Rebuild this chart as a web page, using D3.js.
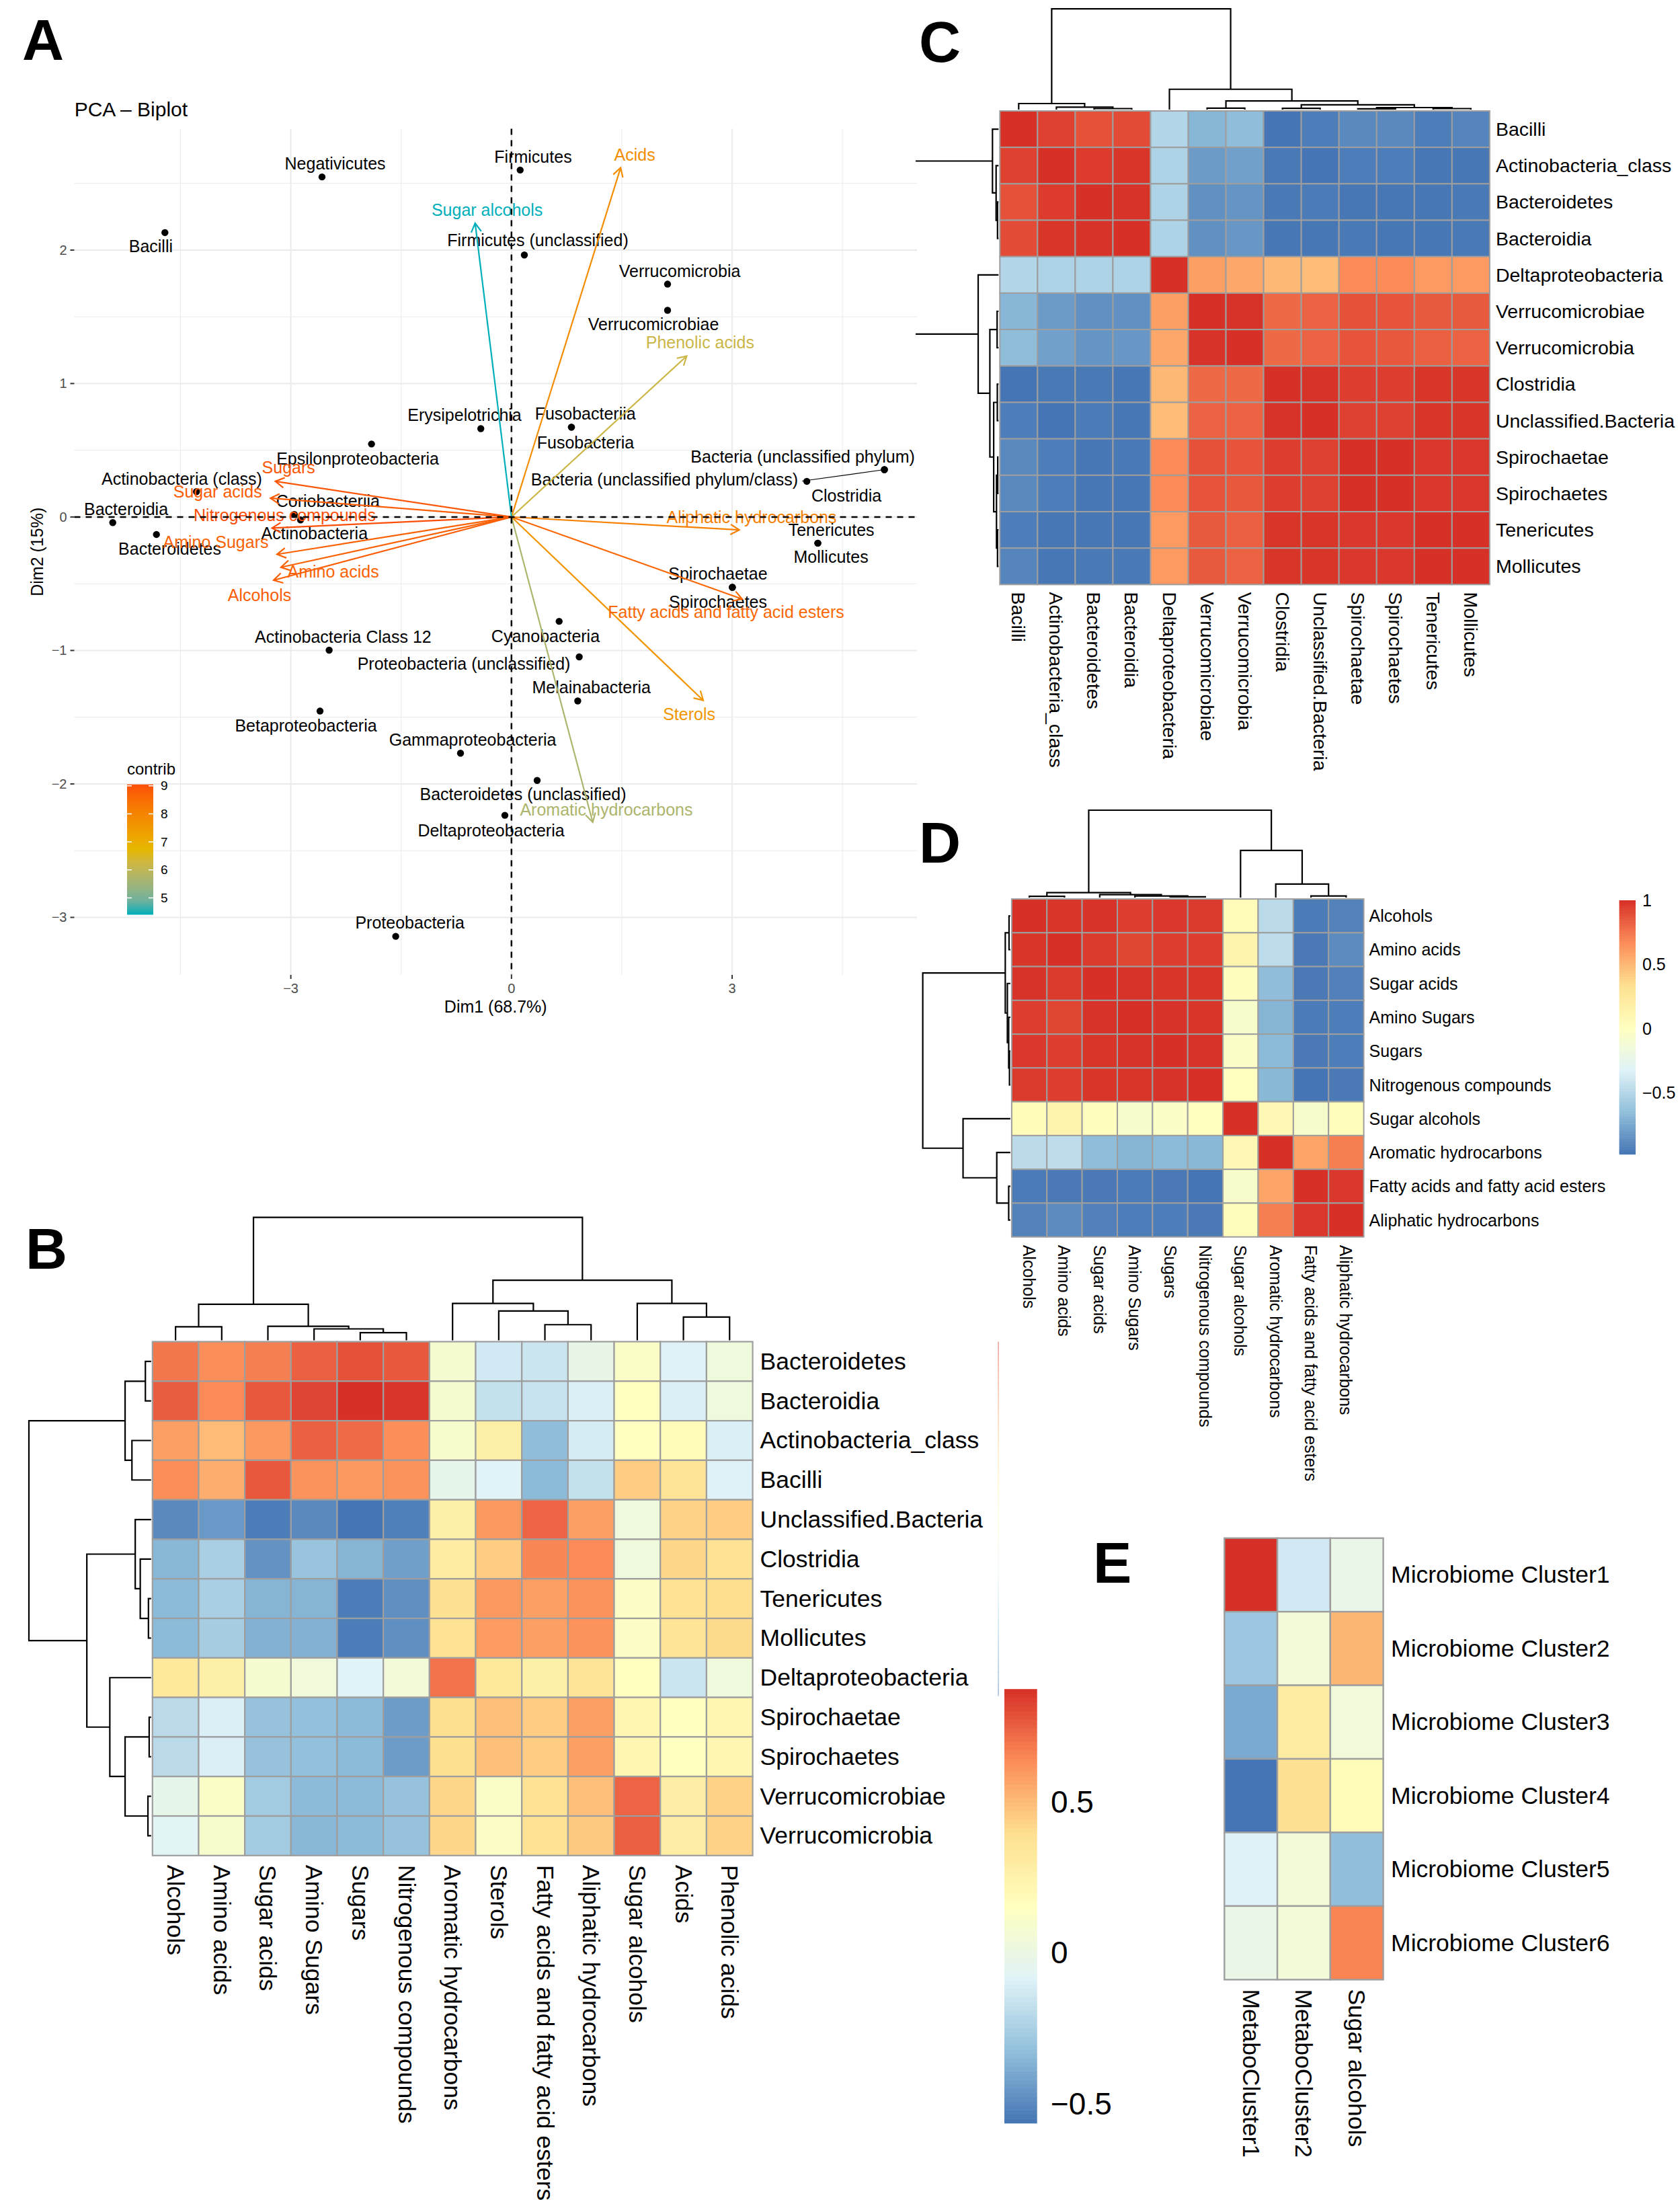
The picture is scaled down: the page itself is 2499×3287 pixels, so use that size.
<!DOCTYPE html>
<html><head><meta charset="utf-8">
<script src="https://cdn.jsdelivr.net/npm/d3@7"></script>
<style>
body{margin:0;background:#fff}
svg{display:block}
text{font-family:"Liberation Sans",Arial,Helvetica,sans-serif}
</style>
</head><body>
<svg id="c" width="2499" height="3287"></svg>
<script>
// ================= DATA =================
// ---- Panel A : PCA biplot (individuals = taxa, variables = metabolite classes)
const indNames = ["Negativicutes","Bacilli","Firmicutes","Firmicutes (unclassified)","Verrucomicrobia","Verrucomicrobiae","Erysipelotrichia","Fusobacteriia","Fusobacteria","Bacteria (unclassified phylum)","Bacteria (unclassified phylum/class)","Clostridia","Tenericutes","Mollicutes","Spirochaetae","Spirochaetes","Cyanobacteria","Proteobacteria (unclassified)","Melainabacteria","Bacteroidetes (unclassified)","Deltaproteobacteria","Gammaproteobacteria","Betaproteobacteria","Actinobacteria Class 12","Proteobacteria","Epsilonproteobacteria","Actinobacteria (class)","Bacteroidia","Bacteroidetes","Coriobacteriia","Actinobacteria"];
const indDim1 = [-2.576,-4.712,0.118,0.175,2.122,2.122,-0.417,0.815,0.815,5.07,5.07,4.015,4.165,4.165,3.003,3.003,0.648,0.921,0.901,0.349,-0.090,-0.693,-2.603,-2.479,-1.574,-1.903,-4.283,-5.421,-4.827,-2.953,-2.868];
const indDim2 = [2.548,2.131,2.600,1.963,1.745,1.549,0.662,0.673,0.673,0.355,0.355,0.267,-0.196,-0.196,-0.527,-0.527,-0.782,-1.048,-1.378,-1.974,-2.235,-1.770,-1.454,-0.998,-3.142,0.547,0.190,-0.042,-0.131,0.019,-0.022];
// repelled label anchors (data units)
const indLabDim1 = [-2.397,-4.903,0.294,0.358,2.287,1.931,-0.638,1.004,1.007,3.960,2.080,4.554,4.349,4.344,2.807,2.808,0.463,-0.647,1.087,0.157,-0.277,-0.528,-2.795,-2.289,-1.381,-2.091,-4.482,-5.240,-4.646,-2.495,-2.678];
const indLabDim2 = [2.605,1.987,2.655,2.031,1.798,1.401,0.720,0.730,0.516,0.409,0.234,0.116,-0.139,-0.343,-0.469,-0.678,-0.935,-1.144,-1.320,-2.120,-2.392,-1.714,-1.606,-0.943,-3.083,0.394,0.243,0.016,-0.280,0.074,-0.167];
const indLabSegment = ["Bacteria (unclassified phylum/class)"];

const varNames = ["Sugars","Sugar acids","Nitrogenous compounds","Amino Sugars","Amino acids","Alcohols","Aliphatic hydrocarbons","Fatty acids and fatty acid esters","Sterols","Aromatic hydrocarbons","Acids","Phenolic acids","Sugar alcohols"];
const varDim1 = [-3.210,-3.277,-3.255,-3.188,-3.135,-3.234,3.097,3.137,2.607,1.105,1.484,2.382,-0.494];
const varDim2 = [0.267,0.141,-0.083,-0.280,-0.377,-0.474,-0.097,-0.615,-1.374,-2.287,2.617,1.206,2.201];
const varContrib = [8.9,8.8,9.05,8.7,8.7,8.8,8.1,8.6,7.6,5.7,7.8,6.2,4.4];
const varLabDim1 = [-3.031,-3.995,-3.084,-4.020,-2.424,-3.426,3.265,2.918,2.415,1.290,1.675,2.564,-0.331];
const varLabDim2 = [0.329,0.146,-0.032,-0.232,-0.453,-0.630,-0.048,-0.756,-1.524,-2.235,2.670,1.262,2.257];

const pcaXTicks = [-3,0,3];
const pcaYTicks = [-3,-2,-1,0,1,2];
const pcaXMinor = [-4.5,-1.5,1.5,4.5];
const pcaYMinor = [-2.5,-1.5,-0.5,0.5,1.5,2.5];
const contribTicks = [5,6,7,8,9];
const contribColors = ["#00AFBB","#E7B800","#FC4E07"];

// ---- Panel B : taxa x metabolite classes correlation
const bTaxa = ["Bacteroidetes","Bacteroidia","Actinobacteria_class","Bacilli","Unclassified.Bacteria","Clostridia","Tenericutes","Mollicutes","Deltaproteobacteria","Spirochaetae","Spirochaetes","Verrucomicrobiae","Verrucomicrobia"];
const bMetab = ["Alcohols","Amino acids","Sugar acids","Amino Sugars","Sugars","Nitrogenous compounds","Aromatic hydrocarbons","Sterols","Fatty acids and fatty acid esters","Aliphatic hydrocarbons","Sugar alcohols","Acids","Phenolic acids"];
const bCorr = [
[0.69,0.63,0.67,0.75,0.79,0.77,0.08,-0.13,-0.15,-0.02,0.12,-0.09,0.03],
[0.76,0.64,0.77,0.82,0.873,0.86,0.08,-0.17,-0.16,-0.10,0.15,-0.10,0.03],
[0.58,0.50,0.60,0.75,0.72,0.63,0.10,0.28,-0.33,-0.12,0.15,0.18,-0.10],
[0.63,0.54,0.77,0.62,0.60,0.62,-0.03,-0.08,-0.34,-0.17,0.45,0.36,-0.09],
[-0.50,-0.45,-0.54,-0.50,-0.565,-0.53,0.28,0.60,0.74,0.58,0.03,0.43,0.45],
[-0.35,-0.25,-0.47,-0.30,-0.36,-0.43,0.30,0.45,0.65,0.64,0.03,0.42,0.37],
[-0.34,-0.25,-0.36,-0.36,-0.54,-0.48,0.38,0.60,0.58,0.62,0.13,0.37,0.40],
[-0.34,-0.26,-0.37,-0.37,-0.54,-0.48,0.37,0.59,0.58,0.62,0.13,0.36,0.41],
[0.33,0.28,0.08,0.04,-0.08,0.05,0.70,0.33,0.27,0.36,0.15,-0.15,0.03],
[-0.20,-0.10,-0.31,-0.32,-0.34,-0.44,0.39,0.49,0.45,0.58,0.22,0.15,0.22],
[-0.20,-0.10,-0.31,-0.32,-0.34,-0.44,0.39,0.49,0.45,0.58,0.22,0.15,0.22],
[-0.03,0.12,-0.27,-0.34,-0.34,-0.31,0.42,0.12,0.37,0.49,0.74,0.29,0.43],
[-0.07,0.10,-0.27,-0.35,-0.34,-0.31,0.42,0.13,0.37,0.46,0.75,0.29,0.43]];
// dendrograms: [height, left, right], leaves = index
const bRowTree = [1.0,[0.213,[0.047,0,1],[0.157,2,3]],[0.526,[0.130,4,[0.089,5,[0.022,6,7]]],[0.338,8,[0.213,[0.016,9,10],[0.026,11,12]]]]];
const bColTree = [1.0,[0.293,[0.110,0,1],[0.114,2,[0.093,3,[0.062,4,5]]]],[0.489,[0.300,6,[0.238,7,[0.127,8,9]]],[0.300,10,[0.189,11,12]]]];
const bLegendTicks = [0.5,0,-0.5];

// ---- Panel C : taxa x taxa correlation
const cTaxa = ["Bacilli","Actinobacteria_class","Bacteroidetes","Bacteroidia","Deltaproteobacteria","Verrucomicrobiae","Verrucomicrobia","Clostridia","Unclassified.Bacteria","Spirochaetae","Spirochaetes","Tenericutes","Mollicutes"];
const cCorr = [
[1.00,0.94,0.88,0.90,-0.50,-0.68,-0.65,-0.97,-0.93,-0.88,-0.88,-0.93,-0.90],
[0.94,1.00,0.96,0.98,-0.52,-0.80,-0.78,-0.95,-0.97,-0.93,-0.93,-0.96,-0.96],
[0.88,0.96,1.00,0.99,-0.52,-0.85,-0.83,-0.95,-0.94,-0.96,-0.96,-0.96,-0.95],
[0.90,0.98,0.99,1.00,-0.52,-0.85,-0.82,-0.96,-0.96,-0.95,-0.96,-0.96,-0.95],
[-0.50,-0.52,-0.52,-0.52,1.00,0.60,0.57,0.50,0.48,0.68,0.68,0.62,0.62],
[-0.68,-0.80,-0.85,-0.85,0.60,1.00,0.99,0.80,0.82,0.88,0.87,0.85,0.85],
[-0.65,-0.78,-0.83,-0.82,0.57,0.99,1.00,0.80,0.82,0.87,0.86,0.83,0.82],
[-0.97,-0.95,-0.95,-0.96,0.50,0.80,0.80,1.00,0.99,0.95,0.95,0.98,0.98],
[-0.93,-0.97,-0.94,-0.96,0.48,0.82,0.82,0.99,1.00,0.94,0.94,0.98,0.98],
[-0.88,-0.93,-0.96,-0.95,0.68,0.88,0.87,0.95,0.94,1.00,1.00,0.97,0.97],
[-0.88,-0.93,-0.96,-0.96,0.68,0.87,0.86,0.95,0.94,1.00,1.00,0.97,0.97],
[-0.93,-0.96,-0.96,-0.96,0.62,0.85,0.83,0.98,0.98,0.97,0.97,1.00,1.00],
[-0.90,-0.96,-0.95,-0.95,0.62,0.85,0.82,0.98,0.98,0.97,0.97,1.00,1.00]];
const cTree = [1.0,[0.060,0,[0.024,1,[0.010,2,3]]],[0.202,4,[0.086,[0.014,5,6],[0.048,[0.012,7,8],[0.020,[0.008,9,10],[0.010,11,12]]]]]];

// ---- Panel D : metabolite x metabolite correlation
const dMetab = ["Alcohols","Amino acids","Sugar acids","Amino Sugars","Sugars","Nitrogenous compounds","Sugar alcohols","Aromatic hydrocarbons","Fatty acids and fatty acid esters","Aliphatic hydrocarbons"];
const dCorr = [
[1.00,0.98,0.99,0.95,0.97,0.96,0.05,-0.48,-0.95,-0.92],
[0.98,1.00,0.96,0.92,0.95,0.95,0.13,-0.46,-0.96,-0.88],
[0.99,0.96,1.00,0.99,0.98,0.98,0.02,-0.66,-0.96,-0.93],
[0.95,0.92,0.99,1.00,0.99,0.98,-0.06,-0.70,-0.95,-0.94],
[0.97,0.95,0.98,0.99,1.00,0.99,-0.03,-0.67,-0.96,-0.94],
[0.96,0.95,0.98,0.98,0.99,1.00,0.01,-0.68,-0.98,-0.96],
[0.05,0.13,0.02,-0.06,-0.03,0.01,1.00,0.08,-0.06,0.03],
[-0.48,-0.46,-0.66,-0.70,-0.67,-0.68,0.08,1.00,0.58,0.72],
[-0.95,-0.96,-0.96,-0.95,-0.96,-0.98,-0.06,0.58,1.00,0.97],
[-0.92,-0.88,-0.93,-0.94,-0.94,-0.96,0.03,0.72,0.97,1.00]];
const dTree = [1.0,[0.058,[0.015,0,1],[0.034,2,[0.019,3,[0.010,4,5]]]],[0.54,6,[0.155,7,[0.019,8,9]]]];
const dLegendTicks = [1,0.5,0,-0.5];

// ---- Panel E : microbiome clusters x metabolite clusters
const eClusters = ["Microbiome Cluster1","Microbiome Cluster2","Microbiome Cluster3","Microbiome Cluster4","Microbiome Cluster5","Microbiome Cluster6"];
const eMetab = ["MetaboCluster1","MetaboCluster2","Sugar alcohols"];
const eCorr = [[0.75,-0.195,-0.087],[-0.34,-0.02,0.41],[-0.44,0.21,-0.03],[-0.60,0.29,0.10],[-0.155,-0.02,-0.375],[-0.08,-0.02,0.545]];

const heatPalette = ["#4575B4","#91BFDB","#E0F3F8","#FFFFBF","#FEE090","#FC8D59","#D73027"];

// ================= DRAWING =================
const svg = d3.select("#c");
const fmt = v => String(v).replace("-", "\u2212");

function palScale(vals){
  const [mn,mx] = d3.extent(vals.flat());
  return d3.scaleLinear().domain(heatPalette.map((_,i)=>mn+(mx-mn)*i/6)).range(heatPalette).clamp(true);
}

function panelLabel(t,x,y){
  svg.append("text").attr("x",x).attr("y",y).attr("font-size",86).attr("font-weight","bold").text(t);
}

// ---------- Panel A ----------
(function(){
  const g = svg.append("g");
  const X0=110.5, X1=1364, Y0=191.5, Y1=1450;
  const ax = d3.scaleLinear().domain([-5.944,5.513]).range([X0,X1]);
  const ay = d3.scaleLinear().domain([-3.431,2.909]).range([Y1,Y0]);
  const col = d3.scaleLinear().domain([d3.min(varContrib),(d3.min(varContrib)+d3.max(varContrib))/2,d3.max(varContrib)]).range(contribColors).interpolate(d3.interpolateLab);

  // grid
  const grid = g.append("g").attr("stroke","#EBEBEB");
  grid.selectAll(null).data(pcaXMinor).join("line").attr("x1",d=>ax(d)).attr("x2",d=>ax(d)).attr("y1",Y0).attr("y2",Y1).attr("stroke-width",1);
  grid.selectAll(null).data(pcaYMinor).join("line").attr("y1",d=>ay(d)).attr("y2",d=>ay(d)).attr("x1",X0).attr("x2",X1).attr("stroke-width",1);
  grid.selectAll(null).data(pcaXTicks).join("line").attr("x1",d=>ax(d)).attr("x2",d=>ax(d)).attr("y1",Y0).attr("y2",Y1).attr("stroke-width",2);
  grid.selectAll(null).data(pcaYTicks).join("line").attr("y1",d=>ay(d)).attr("y2",d=>ay(d)).attr("x1",X0).attr("x2",X1).attr("stroke-width",2);

  // individuals
  const ind = indNames.map((n,i)=>({n,x:indDim1[i],y:indDim2[i],lx:indLabDim1[i],ly:indLabDim2[i]}));
  g.selectAll(null).data(ind).join("circle").attr("cx",d=>ax(d.x)).attr("cy",d=>ay(d.y)).attr("r",5.2).attr("fill","#000");
  const lbl = g.selectAll(null).data(ind).join("text").attr("x",d=>ax(d.lx)).attr("y",d=>ay(d.ly)).attr("text-anchor","middle").attr("font-size",25).attr("fill","#000").text(d=>d.n);
  lbl.filter(d=>indLabSegment.includes(d.n)).each(function(d){
    const bb=this.getBBox();
    g.append("line").attr("x1",bb.x+bb.width+6).attr("y1",bb.y+bb.height/2+2).attr("x2",ax(d.x)).attr("y2",ay(d.y)).attr("stroke","#000").attr("stroke-width",1.2);
  });

  // variables (arrows)
  const vars = varNames.map((n,i)=>({n,x:varDim1[i],y:varDim2[i],c:varContrib[i],lx:varLabDim1[i],ly:varLabDim2[i]}));
  const ox=ax(0), oy=ay(0);
  vars.forEach(v=>{
    const tx=ax(v.x), ty=ay(v.y), a=Math.atan2(ty-oy,tx-ox), L=15, s=Math.PI/6;
    const c=col(v.c);
    g.append("line").attr("x1",ox).attr("y1",oy).attr("x2",tx).attr("y2",ty).attr("stroke",c).attr("stroke-width",2.2);
    g.append("path").attr("d",`M${tx-L*Math.cos(a-s)},${ty-L*Math.sin(a-s)}L${tx},${ty}L${tx-L*Math.cos(a+s)},${ty-L*Math.sin(a+s)}`).attr("fill","none").attr("stroke",c).attr("stroke-width",2.2);
  });
  g.selectAll(null).data(vars).join("text").attr("x",d=>ax(d.lx)).attr("y",d=>ay(d.ly)).attr("text-anchor","middle").attr("font-size",25).attr("fill",d=>col(d.c)).text(d=>d.n);

  // dashed axes
  g.append("line").attr("x1",X0).attr("x2",X1).attr("y1",oy).attr("y2",oy).attr("stroke","#000").attr("stroke-width",2.5).attr("stroke-dasharray","9,8");
  g.append("line").attr("x1",ox).attr("x2",ox).attr("y1",Y0).attr("y2",Y1).attr("stroke","#000").attr("stroke-width",2.5).attr("stroke-dasharray","9,8");

  // axes ticks & labels
  const tk = g.append("g").attr("fill","#4D4D4D").attr("font-size",20);
  tk.selectAll(null).data(pcaXTicks).join("text").attr("x",d=>ax(d)).attr("y",Y1+27).attr("text-anchor","middle").text(fmt);
  tk.selectAll(null).data(pcaYTicks).join("text").attr("x",X0-11).attr("y",d=>ay(d)).attr("text-anchor","end").attr("dominant-baseline","central").text(fmt);
  g.selectAll(null).data(pcaXTicks).join("line").attr("x1",d=>ax(d)).attr("x2",d=>ax(d)).attr("y1",Y1).attr("y2",Y1+6).attr("stroke","#333").attr("stroke-width",2);
  g.selectAll(null).data(pcaYTicks).join("line").attr("y1",d=>ay(d)).attr("y2",d=>ay(d)).attr("x1",X0-6).attr("x2",X0).attr("stroke","#333").attr("stroke-width",2);
  g.append("text").attr("x",(X0+X1)/2).attr("y",Y1+56).attr("text-anchor","middle").attr("font-size",25).text("Dim1 (68.7%)");
  g.append("text").attr("transform",`translate(64,${(Y0+Y1)/2}) rotate(-90)`).attr("text-anchor","middle").attr("font-size",25).text("Dim2 (15%)");
  g.append("text").attr("x",110.7).attr("y",173).attr("font-size",30).text("PCA \u2013 Biplot");

  // colour legend
  const [cmin,cmax]=d3.extent(varContrib);
  const ly = d3.scaleLinear().domain([cmin,cmax]).range([1360.5,1166.7]);
  const defs = svg.append("defs");
  const lg = defs.append("linearGradient").attr("id","gContrib").attr("x1",0).attr("x2",0).attr("y1",1).attr("y2",0);
  d3.range(11).forEach(i=>lg.append("stop").attr("offset",i/10).attr("stop-color",col(cmin+(cmax-cmin)*i/10)));
  g.append("rect").attr("x",189).attr("y",ly(cmax)).attr("width",39).attr("height",ly(cmin)-ly(cmax)).attr("fill","url(#gContrib)");
  g.selectAll(null).data(contribTicks).join("path").attr("d",d=>`M189,${ly(d)}h7M221,${ly(d)}h7`).attr("stroke","#fff").attr("stroke-width",1.5);
  g.selectAll(null).data(contribTicks).join("text").attr("x",239).attr("y",d=>ly(d)).attr("dominant-baseline","central").attr("font-size",19).text(d=>d);
  g.append("text").attr("x",189).attr("y",1152).attr("font-size",24).text("contrib");
})();
panelLabel("A",33,89);

// ---------- heatmap helpers ----------
function heat(g, rows, cols, vals, box, color, opt){
  const xs = d3.scaleBand().domain(cols).range([box.x0,box.x1]);
  const ys = d3.scaleBand().domain(rows).range([box.y0,box.y1]);
  const cells = [];
  rows.forEach((r,i)=>cols.forEach((c,j)=>cells.push({r,c,v:vals[i][j]})));
  g.selectAll(null).data(cells).join("rect")
    .attr("x",d=>xs(d.c)).attr("y",d=>ys(d.r)).attr("width",xs.bandwidth()).attr("height",ys.bandwidth())
    .attr("fill",d=>color(d.v)).attr("stroke","#9E9E9E").attr("stroke-width",opt.sw||2);
  g.selectAll(null).data(rows).join("text").attr("x",box.x1+opt.rowGap).attr("y",d=>ys(d)+ys.bandwidth()/2)
    .attr("dominant-baseline","central").attr("font-size",opt.fs).text(d=>d);
  g.selectAll(null).data(cols).join("text")
    .attr("transform",d=>`translate(${xs(d)+xs.bandwidth()/2},${box.y1+opt.colGap}) rotate(90)`)
    .attr("dominant-baseline","central").attr("font-size",opt.fs).text(d=>d);
  return {xs,ys};
}
function dendro(g, tree, names, band, hs, orient){
  const segs=[];
  (function rec(n){
    if(typeof n==="number") return {p:band(names[n])+band.bandwidth()/2,h:0};
    const A=rec(n[1]), B=rec(n[2]);
    segs.push({a:A,b:B,h:n[0]});
    return {p:(A.p+B.p)/2,h:n[0]};
  })(tree);
  const path = s => orient==="top"
    ? `M${s.a.p},${hs(s.a.h)}V${hs(s.h)}H${s.b.p}V${hs(s.b.h)}`
    : `M${hs(s.a.h)},${s.a.p}H${hs(s.h)}V${s.b.p}H${hs(s.b.h)}`;
  g.selectAll(null).data(segs).join("path").attr("d",path).attr("fill","none").attr("stroke","#000").attr("stroke-width",2.2);
}
function vLegend(g, vals, color, x, w, y0, y1, ticks, fs, lx){
  const [mn,mx]=d3.extent(vals.flat());
  const s=d3.scaleLinear().domain([mn,mx]).range([y1,y0]);
  const n=100, steps=d3.range(n).map(i=>mn+(mx-mn)*i/n);
  g.selectAll(null).data(steps).join("rect").attr("x",x).attr("width",w)
    .attr("y",d=>s(d+(mx-mn)/n)).attr("height",(y1-y0)/n+0.6).attr("fill",d=>color(d+(mx-mn)/(2*n)));
  g.selectAll(null).data(ticks).join("text").attr("x",lx).attr("y",d=>s(d)).attr("dominant-baseline","central").attr("font-size",fs).text(fmt);
}

// ---------- Panel C ----------
(function(){
  const g=svg.append("g");
  const color=palScale(cCorr);
  const box={x0:1487.3,x1:2215.9,y0:165,y1:869.4};
  const {xs,ys}=heat(g,cTaxa,cTaxa,cCorr,box,color,{fs:28.5,rowGap:9,colGap:11});
  dendro(g,cTree,cTaxa,xs,d3.scaleLinear().domain([0,1]).range([box.y0-2,13.2]),"top");
  svg.append("clipPath").attr("id","clipC").append("rect").attr("x",1362).attr("y",0).attr("width",200).attr("height",1000);
  const gr=g.append("g").attr("clip-path","url(#clipC)");
  dendro(gr,cTree,cTaxa,ys,d3.scaleLinear().domain([0,1]).range([box.x0-2,box.x0-151.8]),"left");
})();
panelLabel("C",1367,92);

// ---------- Panel D ----------
(function(){
  const g=svg.append("g");
  const color=palScale(dCorr);
  const box={x0:1504.9,x1:2028.6,y0:1337.1,y1:1839.7};
  const {xs,ys}=heat(g,dMetab,dMetab,dCorr,box,color,{fs:25,rowGap:8,colGap:12});
  dendro(g,dTree,dMetab,xs,d3.scaleLinear().domain([0,1]).range([box.y0-2,1205]),"top");
  dendro(g,dTree,dMetab,ys,d3.scaleLinear().domain([0,1]).range([box.x0-2,1372.6]),"left");
  vLegend(g,dCorr,color,2408.6,24.4,1339,1716.6,dLegendTicks,25,2443);
})();
panelLabel("D",1367,1283);

// ---------- Panel B ----------
(function(){
  const g=svg.append("g");
  const color=palScale(bCorr);
  const box={x0:226.8,x1:1119.6,y0:1995.5,y1:2759.8};
  const {xs,ys}=heat(g,bTaxa,bMetab,bCorr,box,color,{fs:35.5,rowGap:11,colGap:14,sw:2.2});
  dendro(g,bColTree,bMetab,xs,d3.scaleLinear().domain([0,1]).range([box.y0-2,1810.6]),"top");
  dendro(g,bRowTree,bTaxa,ys,d3.scaleLinear().domain([0,1]).range([box.x0-2,43]),"left");
  // faint thin strip at the right of B
  const [mn,mx]=d3.extent(bCorr.flat());
  const st=d3.scaleLinear().domain([mn,mx]).range([2522,1995.5]);
  const steps=d3.range(60).map(i=>mn+(mx-mn)*i/60);
  g.selectAll(null).data(steps).join("rect").attr("x",1484.3).attr("width",1.6)
    .attr("y",d=>st(d+(mx-mn)/60)).attr("height",(2522-1995.5)/60+0.5).attr("fill",d=>color(d)).attr("opacity",0.45);
  vLegend(g,bCorr,color,1494,48.7,2512.2,3157.7,bLegendTicks,46,1563);
})();
panelLabel("B",38,1887);

// ---------- Panel E ----------
(function(){
  const g=svg.append("g");
  const color=palScale(eCorr);
  const box={x0:1821.3,x1:2057.6,y0:2287.7,y1:2944.4};
  heat(g,eClusters,eMetab,eCorr,box,color,{fs:35.5,rowGap:11.5,colGap:14,sw:2.4});
})();
panelLabel("E",1626,2354);
</script>
</body></html>
